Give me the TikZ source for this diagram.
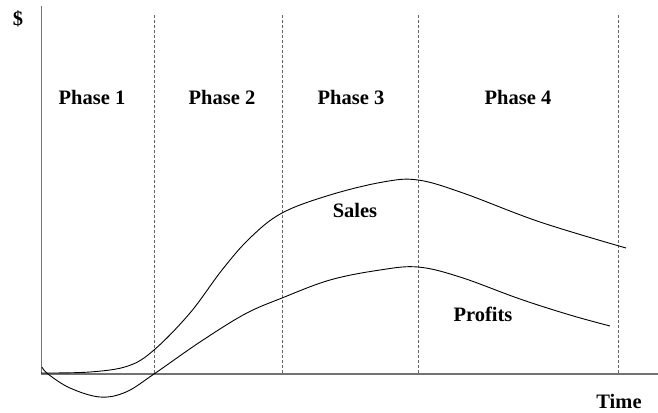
\documentclass[tikz,border=0pt]{standalone}
\usepackage{fontspec}
\setmainfont{Liberation Serif}
\begin{document}
\begin{tikzpicture}[x=1pt,y=-1pt,
  axisline/.style={draw=black!55,line width=1.5pt},
  phaseline/.style={draw=black!60,line width=0.8pt,dash pattern=on 3pt off 2pt},
  curveline/.style={draw=black,line width=0.9pt,smooth,tension=0.6},
  lbl/.style={font=\bfseries\fontsize{20.5}{22}\selectfont,anchor=base,inner sep=0pt}]
\useasboundingbox (0,0) rectangle (658,412);
% phase separators
\foreach \xx/\nm in {154/a,282/b,418/c,618/d}{
  \coordinate (top\nm) at (\xx,15);
  \coordinate (bot\nm) at (\xx,374);
  \draw[phaseline] (top\nm) -- (bot\nm);
}
% axes
\coordinate (origin) at (41.5,374);
\coordinate (ytop) at (41.5,6);
\coordinate (xend) at (658,374);
\draw[axisline] (ytop) -- (origin) -- (xend);
% sales
\draw[curveline] plot coordinates {(41,373) (90,372) (128,366) (154,350) (190,313) (222,270) (250,238) (282,213) (330,195) (383,182) (418,180) (463,193) (540,222) (626,248)};
% profits
\draw[curveline] plot coordinates {(42,367) (48,374) (70,388) (100,397) (126,392) (154,374) (200,342) (245,314) (282,298) (330,280) (380,270) (418,267) (460,277) (520,299) (570,315) (610,326)};
% labels
\node[lbl] (dollar) at (18,26) {\$};
\node[lbl] (p1) at (92,104) {Phase 1};
\node[lbl] (p2) at (222,104) {Phase 2};
\node[lbl] (p3) at (351,104) {Phase 3};
\node[lbl] (p4) at (518,104) {Phase 4};
\node[lbl] (sales) at (355,217) {Sales};
\node[lbl] (profits) at (483,321) {Profits};
\node[lbl] (time) at (619,408) {Time};
\end{tikzpicture}
\end{document}
